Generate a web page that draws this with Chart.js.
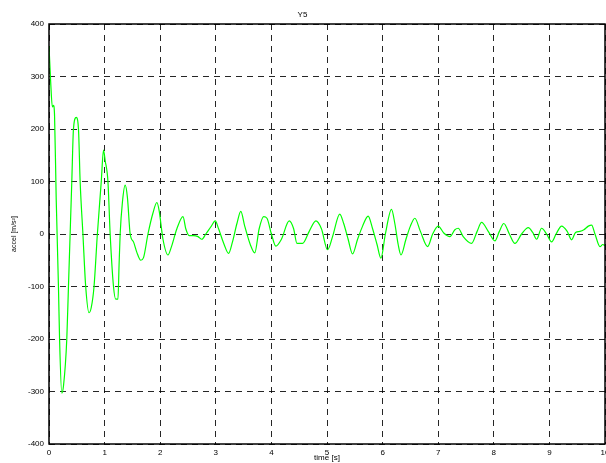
<!DOCTYPE html>
<html>
<head>
<meta charset="utf-8">
<title>Y5</title>
<script src="https://cdn.jsdelivr.net/npm/chart.js@4/dist/chart.umd.min.js"></script>
<style>
    html, body { margin: 0; padding: 0; background: #fff; }
    canvas { display: block; }
</style>
</head>
<body>
<canvas id="accelChart" width="606" height="463"></canvas>
<script>
// time axis [s] and acceleration [m/s^2]
const times = [
    0, 0.03, 0.06, 0.08, 0.10, 0.13, 0.17, 0.19, 0.23, 0.26, 0.32, 0.35, 0.38, 0.41, 0.44, 0.49,
    0.53, 0.56, 0.61, 0.66, 0.72, 0.76, 0.81, 0.87, 0.94, 0.98, 1.01, 1.06, 1.10, 1.16, 1.20, 1.24,
    1.26, 1.28, 1.32, 1.37, 1.41, 1.46, 1.52, 1.58, 1.65, 1.70, 1.78, 1.87, 1.94, 1.98, 2.05, 2.14,
    2.20, 2.30, 2.41, 2.46, 2.52, 2.60, 2.68, 2.75, 2.82, 2.92, 2.99, 3.05, 3.15, 3.23, 3.30, 3.38,
    3.45, 3.52, 3.62, 3.70, 3.78, 3.86, 3.92, 4.00, 4.08, 4.18, 4.32, 4.40, 4.46, 4.56, 4.68, 4.80,
    4.90, 5.01, 5.10, 5.23, 5.30, 5.38, 5.46, 5.55, 5.64, 5.74, 5.82, 5.90, 5.97, 6.05, 6.16, 6.22,
    6.28, 6.33, 6.42, 6.50, 6.58, 6.68, 6.81, 6.90, 7.00, 7.10, 7.21, 7.30, 7.36, 7.45, 7.60, 7.70,
    7.78, 7.90, 8.02, 8.10, 8.18, 8.28, 8.38, 8.50, 8.62, 8.70, 8.77, 8.86, 8.95, 9.04, 9.12, 9.22,
    9.32, 9.40, 9.47, 9.55, 9.62, 9.70, 9.76, 9.82, 9.91, 9.96, 10.0
];
const accel = [
    358, 290, 242, 245, 225, 65, -100, -200, -303, -290, -200, -100, 0, 100, 200, 222,
    200, 100, 0, -100, -150, -140, -100, 0, 100, 160, 140, 100, 0, -100, -124, -124,
    -60, 0, 60, 93, 70, 0, -15, -35, -50, -45, 0, 40, 60, 45, -10, -40,
    -25, 10, 33, 10, -3, -3, -5, -10, 0, 15, 25, 10, -20, -37, -15, 20,
    43, 15, -20, -36, 10, 33, 30, 0, -23, -10, 25, 10, -18, -18, 5, 25,
    10, -30, -5, 38, 20, -10, -38, -10, 15, 34, 10, -20, -46, 0, 47, 20,
    -20, -40, -10, 15, 30, 5, -24, 0, 15, 2, -5, 8, 11, -5, -18, 5,
    22, 5, -13, 5, 20, 0, -18, 0, 12, 3, -10, 11, 0, -15, 0, 15,
    5, -11, 3, 5, 8, 15, 17, 0, -24, -20, -22
];

// axis ranges and tick steps
const xRange = [0, 10];
const yRange = [-400, 400];
const xStep = 1;
const yStep = 100;

const font = { family: "'Liberation Sans', Arial, Helvetica, sans-serif", size: 8 };

// full black frame round the plot area, like the matlab box
const boxPlugin = {
    id: "axesBox",
    afterDraw: function (chart) {
        const a = chart.chartArea;
        const ctx = chart.ctx;
        ctx.save();
        ctx.strokeStyle = "#000";
        ctx.lineWidth = 1.5;
        ctx.strokeRect(a.left, a.top, a.right - a.left, a.bottom - a.top);
        ctx.restore();
    }
};

const points = times.map((t, i) => ({ x: t, y: accel[i] }));

new Chart(document.getElementById("accelChart"), {
    type: "line",
    data: {
        datasets: [{
            label: "Y5",
            data: points,
            borderColor: "#00ff00",
            borderWidth: 1.2,
            pointRadius: 0,
            fill: false,
            cubicInterpolationMode: "monotone"
        }]
    },
    options: {
        responsive: false,
        animation: false,
        layout: { padding: { top: 0, right: 1, bottom: 0, left: 0 } },
        plugins: {
            legend: { display: false },
            tooltip: { enabled: false },
            title: {
                display: true,
                text: "Y5",
                color: "#000",
                font: { family: font.family, size: 8, weight: "normal" },
                padding: { top: 10, bottom: 4.4 }
            }
        },
        scales: {
            x: {
                type: "linear",
                min: xRange[0],
                max: xRange[1],
                ticks: {
                    stepSize: xStep,
                    color: "#000",
                    font: font,
                    padding: 4,
                    maxRotation: 0
                },
                grid: { color: "rgba(0,0,0,0.85)", lineWidth: 1, drawTicks: false },
                border: { display: false, dash: [6, 5] },
                title: {
                    display: true,
                    text: "time [s]",
                    color: "#000",
                    font: font,
                    padding: { top: 0, bottom: 0 }
                },
                afterFit: function (scale) {
                    scale.height = 19;
                    scale.paddingLeft = 0;
                    scale.paddingRight = 0;
                }
            },
            y: {
                type: "linear",
                min: yRange[0],
                max: yRange[1],
                ticks: {
                    stepSize: yStep,
                    color: "#000",
                    font: font,
                    padding: 5
                },
                grid: { color: "rgba(0,0,0,0.85)", lineWidth: 1, drawTicks: false },
                border: { display: false, dash: [6, 5] },
                title: {
                    display: true,
                    text: "accel [m/s²]",
                    color: "#000",
                    font: { family: font.family, size: 7 },
                    padding: { top: 10, bottom: 0 }
                },
                afterFit: function (scale) {
                    scale.width = 49;
                    scale.paddingTop = 0;
                    scale.paddingBottom = 0;
                }
            }
        }
    },
    plugins: [boxPlugin]
});
</script>
</body>
</html>
